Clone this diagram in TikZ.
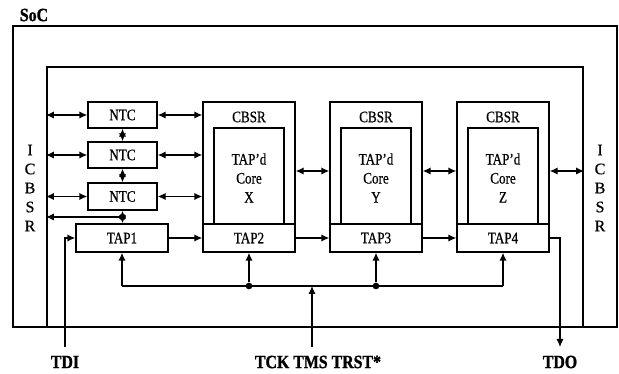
\documentclass[tikz,border=0pt]{standalone}
\usepackage{fontspec}
\setmainfont{Liberation Serif}
\newfontfamily\boxfont[FakeStretch=0.82,FakeBold=0.6]{Liberation Serif}
\newfontfamily\sidefont[FakeBold=0.6]{Liberation Serif}
\newfontfamily\pinfont[FakeStretch=0.85,FakeBold=1.2]{Liberation Serif}
\usetikzlibrary{fit,arrows.meta}
\tikzset{
  frame/.style={draw, line width=1.6pt, inner sep=0pt},
  blk/.style={draw, line width=1pt, inner sep=0pt},
  txt/.style={inner sep=0pt, align=center, font=\boxfont\fontsize{12}{14.25}\selectfont},
  side/.style={inner sep=0pt, align=center, font=\sidefont\fontsize{12}{14.25}\selectfont},
  pin/.style={inner sep=0pt, font=\pinfont\bfseries\fontsize{14}{15}\selectfont},
  lnk/.style={line width=1pt, -{Latex[length=6pt,width=5.5pt]}},
  dlnk/.style={line width=1pt, {Latex[length=6pt,width=5.5pt]}-{Latex[length=6pt,width=5.5pt]}},
  wire/.style={line width=1pt},
  dot/.style={circle, fill, inner sep=0pt, minimum size=5pt}
}
\begin{document}
\begin{tikzpicture}[x=0.75pt,y=-0.75pt]
\useasboundingbox (0,0) rectangle (619,374);
% frames
\node[frame, fit={(13,26) (617,327)}] (soc) {};
\node[frame, fit={(47,67) (583,327)}] (inner) {};
\node[pin] (soclbl) at (34,15) {SoC};
\node[side] (icl) at (30,188) {I\\C\\B\\S\\R};
\node[side] (icr) at (600,188) {I\\C\\B\\S\\R};
% NTCs and TAP1
\node[blk, fit={(88,102) (157,128)}, label={[txt]center:NTC}] (ntc1) {};
\node[blk, fit={(88,142) (157,168)}, label={[txt]center:NTC}] (ntc2) {};
\node[blk, fit={(88,183) (157,210)}, label={[txt]center:NTC}] (ntc3) {};
\node[blk, fit={(76,224) (168,252)}, label={[txt]center:TAP1}] (tap1) {};
% cores
\foreach \n/\x/\c/\t in {x/203/X/2, y/330/Y/3, z/457/Z/4}{
  \node[blk, fit={(\x,102) (\x+92,252)}] (cb\n) {};
  \node[blk, fit={(\x+11,128) (\x+81,224)}] (core\n) {};
  \node[blk, fit={(\x,224) (\x+92,252)}, label={[txt]center:TAP\t}] (tap\t) {};
  \node[txt] (cbl\n) at (\x+46,117) {CBSR};
  \node[txt] (cl\n) at (\x+46,178) {TAP’d\\Core\\\c};
}
% NTC links
\foreach \i in {1,2,3}{
  \draw[dlnk] (inner.west |- ntc\i) -- (ntc\i.west);
  \draw[dlnk] (ntc\i.east) -- (ntc\i.east -| cbx.west);
}
\draw[dlnk] (ntc1.south) -- (ntc2.north);
\draw[dlnk] (ntc2.south) -- (ntc3.north);
\draw[dlnk] (ntc3.south) -- coordinate[pos=0.5] (j1) (ntc3.south |- tap1.north);
\draw[lnk] (j1) -- (j1 -| inner.west);
\node[dot] (d1) at (j1) {};
% core links
\draw[dlnk] (cbx.east |- 0,171) -- (cby.west |- 0,171);
\draw[dlnk] (cby.east |- 0,171) -- (cbz.west |- 0,171);
\draw[dlnk] (cbz.east |- 0,171) -- (inner.east |- 0,171);
% TAP chain
\draw[lnk] (tap1.east) -- (tap2.west);
\draw[lnk] (tap2.east) -- (tap3.west);
\draw[lnk] (tap3.east) -- (tap4.west);
% pins
\node[pin] (tdi) at (65,362) {TDI};
\node[pin] (tck) at (318,362) {TCK TMS TRST*};
\node[pin] (tdo) at (560,362) {TDO};
\coordinate (tdis) at (65,347);
\coordinate (tcks) at (312,347);
\coordinate (tdoe) at (560,347);
\draw[lnk] (tdis) |- (tap1.west);
\draw[lnk] (tap4.east) -| (tdoe);
% control bus
\coordinate (busL) at (tap1.south |- 0,286);
\coordinate (busR) at (tap4.south |- 0,286);
\draw[wire] (busL) -- (busR);
\draw[lnk] (busL) -- (tap1.south);
\draw[lnk] (busR) -- (tap4.south);
\node[dot] (d2) at (tap2.south |- busL) {};
\node[dot] (d3) at (tap3.south |- busL) {};
\draw[lnk] (d2) -- (tap2.south);
\draw[lnk] (d3) -- (tap3.south);
\draw[lnk] (tcks) -- (tcks |- busL);
\end{tikzpicture}
\end{document}
